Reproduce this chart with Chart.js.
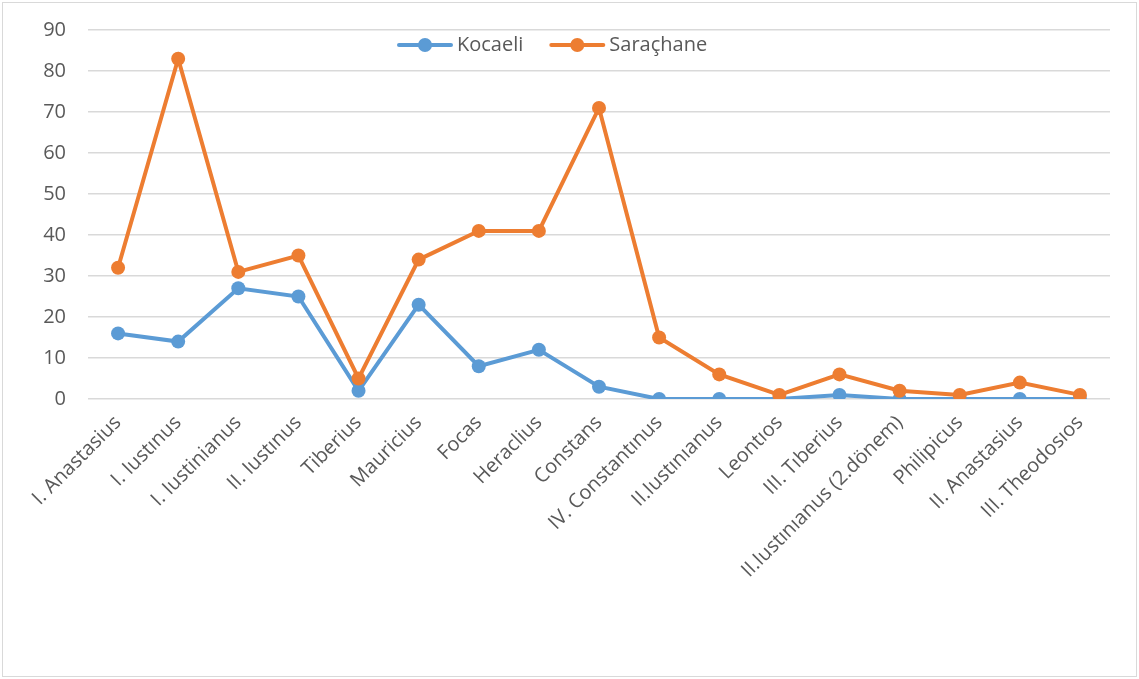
<!DOCTYPE html>
<html>
<head>
<meta charset="utf-8">
<script src="https://cdn.jsdelivr.net/npm/chart.js@4.4.1/dist/chart.umd.min.js"></script>
<style>
  html, body { margin:0; padding:0; background:#fff; }
  #box { position:absolute; left:2px; top:2px; width:1133px; height:673px; border:1px solid #d9d9d9; }
</style>
</head>
<body>
<div id="box"><canvas id="chart" width="1133" height="673"></canvas></div>
<script>
// chart data
const rulers = ['I. Anastasius', 'I. Iustınus', 'I. Iustinianus', 'II. Iustınus', 'Tiberius', 'Mauricius', 'Focas',
  'Heraclius', 'Constans', 'IV. Constantınus', 'II.Iustınıanus', 'Leontıos', 'III. Tıberius',
  'II.Iustınıanus (2.dönem)', 'Philipicus', 'II. Anastasius', 'III. Theodosıos'];
const kocaeli = [16, 14, 27, 25, 2, 23, 8, 12, 3, 0, 0, 0, 1, 0, 0, 0, 0];
const saracHane = [32, 83, 31, 35, 5, 34, 41, 41, 71, 15, 6, 1, 6, 2, 1, 4, 1];
const yTicks = [0, 10, 20, 30, 40, 50, 60, 70, 80, 90];

const BLUE = '#5b9bd5', ORANGE = '#ed7d31';
const FONT = "'Open Sans', 'DejaVu Sans', sans-serif";
const TEXT = '#595959';

// legend drawn inside the plot, top centre (like the Excel original)
const innerLegend = {
  id: 'innerLegend',
  afterDraw(chart) {
    const g = chart.ctx;
    const y = chart.chartArea.top + 15;
    let x = 394;
    g.save();
    g.font = '20px ' + FONT;
    g.textBaseline = 'middle';
    chart.data.datasets.forEach((ds) => {
      g.strokeStyle = ds.borderColor; g.lineWidth = 4; g.lineCap = 'round';
      g.beginPath(); g.moveTo(x + 2, y); g.lineTo(x + 54, y); g.stroke();
      g.fillStyle = ds.borderColor;
      g.beginPath(); g.arc(x + 28, y, 7, 0, Math.PI * 2); g.fill();
      g.fillStyle = TEXT;
      g.fillText(ds.label, x + 60, y);
      x += 60 + g.measureText(ds.label).width + 26;
    });
    g.restore();
  }
};

const ctx = document.getElementById('chart').getContext('2d');
new Chart(ctx, {
  type: 'line',
  data: {
    labels: rulers,
    datasets: [
      { label: 'Kocaeli', data: kocaeli, borderColor: BLUE, backgroundColor: BLUE, borderWidth: 4,
        pointRadius: 7, pointHoverRadius: 7, pointBorderWidth: 0, tension: 0, order: 2 },
      { label: 'Saraçhane', data: saracHane, borderColor: ORANGE, backgroundColor: ORANGE, borderWidth: 4,
        pointRadius: 7, pointHoverRadius: 7, pointBorderWidth: 0, tension: 0, order: 1 }
    ]
  },
  options: {
    responsive: false,
    animation: false,
    layout: { padding: { top: 27, right: 26, left: 0, bottom: 0 } },
    plugins: {
      tooltip: { enabled: false },
      legend: { display: false }
    },
    scales: {
      x: {
        offset: true,
        grid: { display: false },
        border: { display: false },
        ticks: { font: { family: FONT, size: 20 }, color: TEXT, minRotation: 45, maxRotation: 45, autoSkip: false, padding: 4 },
        afterFit: (s) => { s.height = 277; }
      },
      y: {
        min: 0, max: 90,
        afterBuildTicks: (s) => { s.ticks = yTicks.map(v => ({ value: v })); },
        grid: { color: '#d9d9d9', lineWidth: 1.5, drawTicks: false },
        border: { display: false },
        ticks: { font: { family: FONT, size: 20 }, color: TEXT, padding: 22 },
        afterFit: (s) => { s.width = 85; s.paddingTop = 0; }
      }
    }
  },
  plugins: [innerLegend]
});
</script>
</body>
</html>
